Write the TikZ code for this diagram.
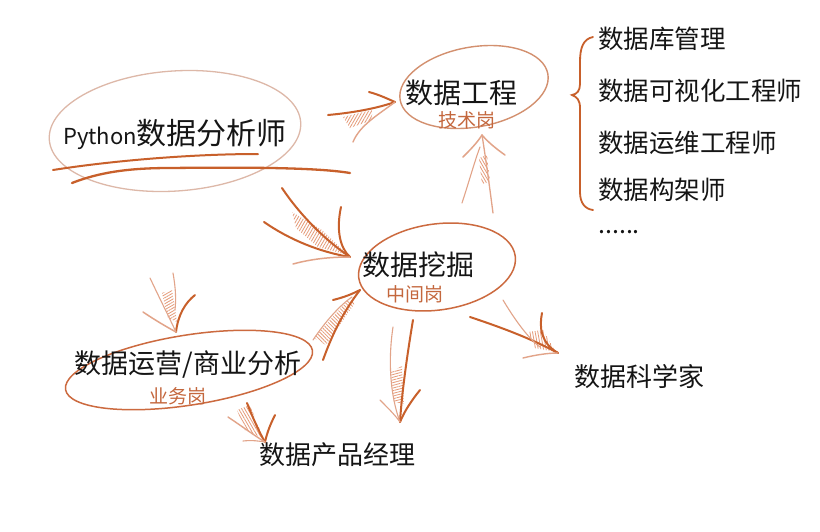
\documentclass[tikz,border=0pt]{standalone}
\usepackage{fontspec}
\setmainfont{Noto Sans CJK SC}
\usetikzlibrary{patterns.meta}
\definecolor{arrc}{HTML}{C8602B}
\definecolor{lightc}{HTML}{E2A489}
\definecolor{hatchc}{HTML}{E59A78}
\definecolor{ellA}{HTML}{DDB8A8}
\definecolor{ellB}{HTML}{D3906F}
\definecolor{ellC}{HTML}{CC6A3F}
\definecolor{labc}{HTML}{C4673D}
\definecolor{txtc}{HTML}{151515}
\tikzset{
  arr/.style={draw=arrc, line width=2pt, line cap=round},
  ghost/.style={draw=lightc, line width=1.1pt, line cap=round},
  hatchfill/.style={pattern={Lines[angle=#1,distance=2.6pt,line width=0.8pt]}, pattern color=hatchc},
  fs/.style={font=\fontsize{#1}{#1}\selectfont},
  txt/.style={inner sep=0pt, text=txtc},
  lab/.style={inner sep=0pt, text=labc, fs=19},
}
\begin{document}
\begin{tikzpicture}[x=1pt,y=-1pt]
\useasboundingbox[fill=white] (0,0) rectangle (820,531);

% ---------- ellipses ----------
\draw[ellA, line width=1.3pt, rotate around={4:(175,131)}] (175,131) ellipse [x radius=126, y radius=60];
\draw[ellB, line width=1.4pt, rotate around={10:(474,87)}] (474,87) ellipse [x radius=75, y radius=40];
\draw[ellC, line width=1.5pt, rotate around={8:(437,267)}] (437,267) ellipse [x radius=79, y radius=43];
\draw[ellC, line width=1.5pt, rotate around={9:(189,370)}] (189,370) ellipse [x radius=125, y radius=35];

% ---------- texts ----------
\node[txt, anchor=west] (py) at (63,134) {{\fontsize{22}{26}\selectfont Python}{\fontsize{30}{36}\selectfont 数据分析师}};
\node[txt, fs=28] (de) at (461,93) {数据工程};
\node[lab] (de2) at (467,120) {技术岗};
\node[txt, fs=28] (dm) at (418,265) {数据挖掘};
\node[lab] (dm2) at (415,294) {中间岗};
\node[txt, fs=27] (yy) at (188,365) {数据运营/商业分析};
\node[lab] (yy2) at (178,396) {业务岗};
\node[txt, fs=26] (cp) at (337,455) {数据产品经理};
\node[txt, fs=26] (kx) at (639,377) {数据科学家};
\node[txt, fs=25.5, anchor=west] (l1) at (598,39) {数据库管理};
\node[txt, fs=25.5, anchor=west] (l2) at (598,91) {数据可视化工程师};
\node[txt, fs=25.5, anchor=west] (l3) at (598,143) {数据运维工程师};
\node[txt, fs=25.5, anchor=west] (l4) at (598,190) {数据构架师};
\node[txt, fs=25, anchor=base west] (l5) at (598,233) {......};

% ---------- underline strokes ----------
\draw[arr] (53,170) .. controls (110,161) and (190,154) .. (258,154);
\draw[arr, line width=2.3pt] (72,183) .. controls (100,172) and (130,168) .. (170,168) .. controls (260,167) and (320,168) .. (350,173);

% ---------- brace ----------
\draw[arr, line width=1.8pt] (593,37) .. controls (583,39) and (580,48) .. (580,62) -- (580,84) .. controls (580,91) and (577,94) .. (572,95) .. controls (577,97) and (580,100) .. (580,108) -- (580,192) .. controls (580,203) and (585,209) .. (593,210);

% ---------- A1: Python -> 数据工程 ----------
\coordinate (t1) at (395,102);
\fill[hatchfill=60] (343,117) -- (372,110) -- (372,120) -- (350,128) -- cycle;
\draw[arr] (328,115) .. controls (350,113) and (375,109) .. (t1);
\draw[arr] (369,92) .. controls (380,95) and (388,99) .. (t1);
\draw[ghost, line width=1.4pt] (t1) .. controls (378,115) and (360,125) .. (353,142);

% ---------- A2: 数据挖掘 -> 数据工程 ----------
\coordinate (t2) at (482,135);
\fill[hatchfill=120] (479,158) -- (487,155) -- (490,182) -- (482,184) -- cycle;
\draw[ghost, line width=1.5pt] (463,157) .. controls (470,150) and (477,143) .. (t2);
\draw[ghost, line width=1.5pt] (505,155) .. controls (495,148) and (487,141) .. (t2);
\draw[ghost, line width=1.3pt] (493,213) .. controls (490,190) and (486,160) .. (t2);
\draw[ghost] (462,203) .. controls (468,185) and (475,160) .. (480,147);

% ---------- A3: Python -> 数据挖掘 ----------
\coordinate (t3) at (350,257);
\fill[hatchfill=60] (292,212) -- (322,230) -- (348,255) -- (318,247) -- (296,228) -- cycle;
\draw[arr] (282,188) .. controls (300,215) and (325,240) .. (t3);
\draw[arr] (341,207) .. controls (336,230) and (340,248) .. (t3);
\draw[arr] (264,222) .. controls (290,240) and (320,252) .. (t3);
\draw[ghost, line width=1.5pt] (293,264) .. controls (315,258) and (335,257) .. (t3);

% ---------- A4: -> 数据运营 ----------
\coordinate (t4) at (176,332);
\fill[hatchfill=30] (162,293) -- (172,290) -- (177,322) -- (168,318) -- cycle;
\draw[arr] (195,295) .. controls (185,303) and (178,315) .. (t4);
\draw[ghost, line width=1.5pt] (143,312) .. controls (155,320) and (165,326) .. (t4);
\draw[ghost] (150,278) .. controls (158,295) and (168,315) .. (t4);
\draw[ghost] (173,273) .. controls (176,290) and (176,300) .. (175,310);

% ---------- A5: 数据运营 -> 数据挖掘 ----------
\coordinate (t5) at (360,290);
\fill[hatchfill=135] (314,338) -- (348,300) -- (355,303) -- (326,345) -- cycle;
\draw[arr] (333,300) .. controls (345,297) and (352,294) .. (t5);
\draw[arr] (323,360) .. controls (332,335) and (343,312) .. (t5);
\draw[ghost] (313,340) .. controls (325,322) and (340,305) .. (352,297);

% ---------- A6: 数据运营 -> 数据产品经理 ----------
\coordinate (t6) at (265,442);
\fill[hatchfill=120] (237,410) -- (250,405) -- (263,438) -- (245,430) -- cycle;
\draw[arr] (247,403) .. controls (253,418) and (259,432) .. (t6);
\draw[arr] (275,415) .. controls (270,425) and (267,433) .. (t6);
\draw[ghost, line width=1.4pt] (228,417) .. controls (243,427) and (255,436) .. (t6);
\draw[ghost] (243,441) .. controls (252,440) and (259,441) .. (t6);

% ---------- A7: 数据挖掘 -> 数据产品经理 ----------
\coordinate (t7) at (400,422);
\fill[hatchfill=15] (391,372) -- (402,366) -- (404,404) -- (394,402) -- cycle;
\draw[arr] (413,320) .. controls (408,350) and (402,390) .. (t7);
\draw[arr] (420,390) .. controls (412,400) and (405,410) .. (t7);
\draw[ghost] (393,327) .. controls (388,360) and (390,395) .. (t7);
\draw[ghost] (380,400) .. controls (388,408) and (395,415) .. (t7);

% ---------- A8: 数据挖掘 -> 数据科学家 ----------
\coordinate (t8) at (558,353);
\fill[hatchfill=100] (528,332) -- (543,330) -- (556,352) -- (535,348) -- cycle;
\draw[arr] (470,317) .. controls (500,327) and (530,338) .. (t8);
\draw[arr] (542,313) .. controls (539,328) and (541,343) .. (t8);
\draw[ghost, line width=1.4pt] (523,358) .. controls (535,355) and (548,353) .. (t8);
\draw[ghost] (503,300) .. controls (515,320) and (528,338) .. (540,347);
\end{tikzpicture}
\end{document}
